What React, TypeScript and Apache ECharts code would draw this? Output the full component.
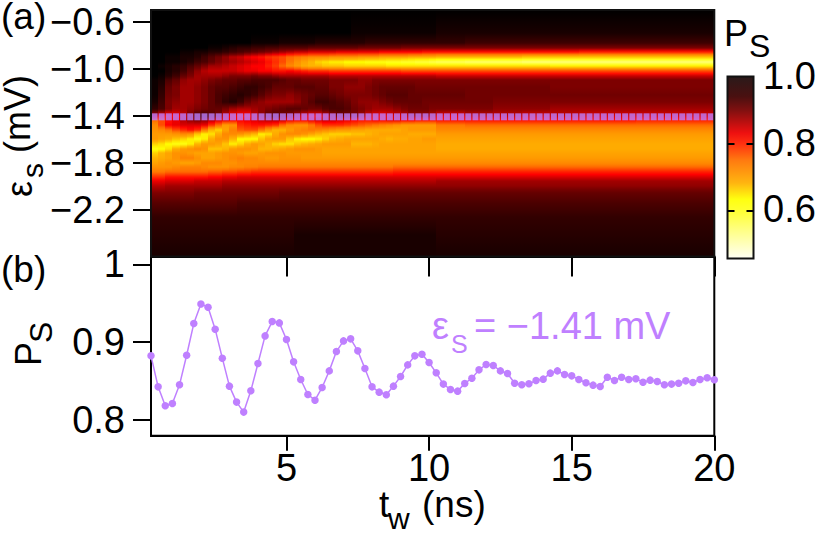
import React, { useEffect, useRef } from "react";
import * as echarts from "echarts";

const FONT = '"Liberation Sans", Arial, sans-serif';
const PURPLE = "#bf80ff";

// panel (b): waiting time samples 0.25 .. 20 ns
const waitNs = Array.from({ length: 80 }, (_, i) => (i + 1) * 0.25);
const panelB = [
  0.8825, 0.8427, 0.8184, 0.8214, 0.8453, 0.8833, 0.9239, 0.9491, 0.9449, 0.9167,
  0.8795, 0.8436, 0.8231, 0.8103, 0.8376, 0.8726, 0.9081, 0.9265, 0.9248, 0.9034,
  0.8748, 0.8521, 0.8329, 0.8256, 0.8419, 0.8632, 0.888, 0.9017, 0.9043, 0.8889,
  0.8662, 0.8427, 0.8359, 0.8325, 0.8436, 0.856, 0.8709, 0.8825, 0.8846, 0.8739,
  0.8607, 0.8462, 0.8393, 0.8372, 0.847, 0.8538, 0.8645, 0.8714, 0.8701, 0.8632,
  0.8598, 0.8474, 0.8453, 0.8466, 0.8509, 0.8526, 0.8603, 0.8632, 0.8585, 0.8568,
  0.8521, 0.8479, 0.8449, 0.8432, 0.8551, 0.8509, 0.8551, 0.8521, 0.853, 0.8487,
  0.8513, 0.8496, 0.8453, 0.8462, 0.8474, 0.8504, 0.8483, 0.8521, 0.8543, 0.8517,
];

// panel (a): column edges in ns, row energies in mV, P_S x 100
const colEdges = [
  0.25, 0.5, 0.75, 1, 1.25, 1.5, 1.75, 2, 2.25, 2.5, 2.75, 3, 3.25, 3.5, 3.75, 4, 4.25, 4.5, 4.75, 5,
  5.25, 5.5, 5.75, 6, 6.25, 6.5, 6.75, 7, 7.25, 7.5, 7.75, 8, 8.25, 8.5, 8.75, 9, 9.25, 9.5, 9.75, 10, 10.25,
  11.25, 12.25, 13.25, 14.25, 15.25, 16.25, 17.25, 18.25, 19.25, 20,
];
const rowEnergies = [
  -0.5, -0.7, -0.78, -0.82, -0.86, -0.9, -0.94, -0.98, -1.02, -1.06, -1.1, -1.16, -1.22, -1.28, -1.34, -1.4,
  -1.44, -1.48, -1.52, -1.56, -1.6, -1.64, -1.68, -1.72, -1.76, -1.8, -1.84, -1.88, -1.92, -1.96, -2.0, -2.06,
  -2.14, -2.26, -2.42, -2.6,
];
const heatRows = [
  [100,100,100,100,100,100,100,100,100,100,100,100,100,100,100,100,100,100,100,100,100,100,100,100,100,100,100,100,100,100,100,100,100,100,100,100,100,100,100,100,100,100,100,100,100,100,100,100,100,100],
  [100,100,100,100,100,100,100,100,100,100,100,100,100,100,100,100,100,100,100,100,100,100,100,100,100,100,100,100,99,99,99,99,99,99,99,99,99,99,99,99,98,98,98,98,98,98,98,98,98,98],
  [100,100,100,100,100,100,100,100,100,100,100,100,100,100,99,99,99,99,98,98,98,98,98,97,97,97,97,97,97,97,96,96,96,96,96,96,96,96,96,96,96,95,95,95,95,95,95,95,95,95],
  [100,100,100,100,100,100,100,100,99,99,98,97,96,96,95,95,94,94,93,93,93,93,92,92,92,92,92,92,92,91,91,91,91,91,91,90,90,90,90,90,90,90,90,90,90,90,90,90,90,90],
  [100,100,100,100,99,99,98,98,97,97,96,95,94,93,92,91,90,89,88,87,86,86,85,85,85,85,84,84,84,84,84,84,83,83,83,83,83,83,82,82,82,82,82,82,82,81,81,81,81,81],
  [100,100,99,99,98,98,97,95,93,91,89,87,86,84,83,82,80,79,78,76,75,74,73,73,73,72,72,72,72,71,71,71,70,70,70,70,69,69,69,69,68,68,68,67,67,67,67,67,67,67],
  [100,100,99,99,98,97,95,94,92,90,89,88,87,86,85,84,82,80,78,75,72,70,68,66,65,64,64,63,63,63,62,62,62,61,61,60,60,59,59,58,57,56,56,55,55,55,55,55,55,55],
  [100,99,98,97,96,94,92,90,88,88,87,86,85,84,83,83,81,79,76,73,71,69,68,68,67,67,67,66,66,66,66,66,66,65,65,65,65,65,65,65,65,65,65,65,64,64,64,64,64,64],
  [100,100,98,97,95,92,89,87,86,86,86,86,85,84,84,83,83,82,82,83,82,81,80,80,80,79,79,79,79,79,79,79,79,79,79,78,78,78,78,78,78,78,78,78,78,78,78,78,78,78],
  [100,99,97,95,92,90,88,88,88,88,89,90,90,90,91,90,90,89,88,88,88,88,88,88,88,87,87,87,87,87,87,87,87,87,87,87,87,87,87,87,86,86,86,86,86,86,86,86,86,86],
  [99,98,94,92,89,88,88,89,90,91,92,92,93,93,94,94,94,94,93,92,92,91,91,91,91,90,90,90,90,89,89,90,90,90,90,90,90,90,90,90,90,90,90,90,90,90,90,90,90,90],
  [99,97,92,90,88,88,89,90,92,93,93,94,95,96,96,95,94,92,92,92,93,93,93,92,92,90,90,89,89,89,90,91,92,92,92,92,92,91,91,91,91,91,91,91,90,90,90,90,90,90],
  [99,96,91,90,88,88,89,90,92,94,95,96,97,96,95,93,91,90,90,89,90,91,92,93,93,92,91,90,90,90,90,91,92,93,93,93,92,92,92,92,92,91,91,91,91,91,91,91,91,91],
  [98,95,90,89,88,88,89,90,92,94,96,97,95,92,90,89,88,88,88,88,89,91,93,95,95,94,93,92,90,89,89,89,90,91,92,92,92,92,91,91,91,91,90,90,90,90,90,90,90,90],
  [96,94,90,88,88,89,90,91,92,92,90,88,87,87,88,89,90,91,92,93,93,92,91,91,93,94,94,93,91,90,89,88,88,88,89,90,91,91,91,90,90,90,89,89,88,88,88,88,88,88],
  [86,83,82,83,86,90,94,95,93,90,86,83,82,82,86,89,92,93,91,89,86,84,83,83,85,88,90,90,90,88,85,84,83,84,85,86,88,88,88,87,84,86,86,85,86,85,85,85,85,85],
  [76,78,82,84,87,89,90,89,87,85,84,83,83,84,85,86,87,87,86,84,83,83,84,85,86,86,85,84,83,82,82,83,83,84,84,83,83,82,82,82,82,82,82,82,82,82,82,81,81,81],
  [73,78,83,84,85,85,85,84,80,76,71,72,80,81,82,82,81,80,76,73,72,72,75,78,80,80,80,79,78,77,76,75,74,73,72,71,71,71,71,71,75,76,76,76,76,76,76,76,76,76],
  [72,73,75,78,80,82,80,74,68,66,70,74,77,78,78,75,71,68,68,71,73,74,75,74,73,72,71,71,70,70,69,69,69,69,69,70,71,71,71,71,73,73,73,73,73,73,73,73,73,73],
  [71,71,71,72,73,72,67,64,65,69,73,73,72,70,68,64,65,69,72,73,73,72,70,68,67,66,66,66,67,67,68,69,70,70,70,70,69,69,69,69,71,71,71,71,71,71,71,71,71,71],
  [71,70,69,67,66,64,62,64,69,72,72,68,63,63,63,67,70,71,71,67,64,63,63,64,66,68,69,70,70,70,70,70,69,68,69,69,70,70,71,71,70,70,70,70,70,70,70,70,70,70],
  [66,65,63,62,62,64,68,71,71,70,67,64,66,69,71,70,68,66,65,65,67,68,69,70,71,71,71,71,68,68,68,69,70,70,70,70,70,70,70,70,69,69,69,69,69,69,69,69,69,69],
  [62,63,65,69,71,72,73,72,67,67,68,71,72,72,71,68,68,69,70,71,72,72,72,71,70,70,70,70,70,70,70,70,70,70,70,70,70,70,70,70,69,69,69,69,69,69,69,69,69,69],
  [66,68,70,72,72,71,70,70,70,71,72,72,71,70,70,71,72,72,72,71,71,71,71,71,70,70,70,70,70,70,70,70,70,70,70,70,70,70,70,70,70,70,70,70,70,70,70,70,70,70],
  [68,69,70,72,74,74,72,70,70,71,72,73,74,73,73,72,71,71,72,72,72,71,71,71,71,71,71,71,71,71,71,71,71,71,71,71,71,71,71,71,71,71,71,71,71,71,71,71,71,71],
  [70,71,72,71,70,70,71,73,73,73,72,72,73,73,73,73,73,73,73,73,73,73,73,73,73,73,73,73,73,73,73,73,73,73,73,73,73,73,73,73,73,73,73,73,73,73,73,73,73,73],
  [72,72,72,73,74,74,74,73,72,72,72,73,73,74,74,75,75,75,75,75,75,75,75,75,75,75,75,75,75,75,75,75,75,75,76,76,76,76,76,76,76,76,76,76,76,76,76,76,76,76],
  [75,75,76,76,76,76,76,76,77,77,78,78,79,79,80,80,80,80,80,80,80,80,80,80,80,80,80,80,80,80,80,80,80,80,81,81,81,81,81,81,81,81,81,81,81,81,81,81,81,81],
  [80,80,82,82,82,82,82,82,83,83,84,84,85,85,85,85,85,85,85,85,85,85,85,85,85,85,85,85,85,85,85,85,85,85,85,85,85,85,85,85,85,85,85,85,85,85,85,85,85,85],
  [84,84,85,85,85,85,86,86,86,86,87,87,87,87,87,87,87,87,87,87,87,87,87,87,87,87,87,87,87,87,87,87,87,87,87,87,87,87,87,87,88,88,88,88,88,88,88,88,88,88],
  [87,87,88,88,88,88,88,88,88,88,89,89,89,89,89,89,89,89,89,89,89,89,89,89,89,89,89,89,89,89,89,89,89,89,89,89,89,89,89,89,89,89,89,89,89,89,89,89,89,89],
  [90,90,90,90,90,90,91,91,91,91,91,91,91,91,91,91,91,91,92,92,92,92,92,92,92,92,92,92,92,92,92,92,92,92,92,92,92,92,92,92,92,92,92,92,92,92,92,92,92,92],
  [93,93,93,93,93,93,93,93,93,93,93,93,94,94,94,94,94,94,94,94,94,94,94,94,94,94,94,94,94,94,94,94,94,94,94,94,94,94,94,94,94,94,94,94,94,94,94,94,94,94],
  [96,96,96,96,96,96,96,96,96,96,96,96,96,96,96,96,96,96,96,96,96,96,96,96,96,96,96,96,96,96,96,96,96,96,96,96,96,96,96,96,96,96,96,96,96,96,96,96,96,96],
  [97,97,97,97,97,97,97,97,97,97,97,97,97,97,97,97,97,97,97,97,98,98,98,98,98,98,98,98,98,98,98,98,98,98,98,98,98,98,98,98,97,97,97,97,97,97,97,97,97,97],
  [98,98,98,98,98,98,98,98,98,98,98,98,98,98,98,98,98,98,98,98,98,98,98,98,98,98,98,98,98,98,98,98,98,98,98,98,98,98,98,98,98,98,98,98,98,98,98,98,98,98],
];

const cutEnergy = -1.41;
const yTicksA = [-0.6, -1.0, -1.4, -1.8, -2.2];
const yTicksB = [0.8, 0.9, 1];
const xTicks = [5, 10, 15, 20];
const barTicks = ["1.0", "0.8", "0.6"];

// colour scale of P_S, value to rgb
const heatStops: number[][] = [
  [0.457, 255, 255, 255],
  [0.63, 255, 255, 0],
  [0.68, 255, 180, 0],
  [0.75, 255, 120, 0],
  [0.83, 255, 0, 0],
  [0.9, 125, 0, 0],
  [1.0, 0, 0, 0],
];
const barStops: [number, string][] = [
  [0, "#2a1a1a"],
  [0.11, "#4a1010"],
  [0.185, "#801010"],
  [0.31, "#ee1010"],
  [0.368, "#ff3010"],
  [0.46, "#ff7a10"],
  [0.585, "#ffb510"],
  [0.675, "#ffff10"],
  [0.735, "#ffff30"],
  [0.85, "#ffff88"],
  [1, "#fffff4"],
];

function colorOf(v: number): string {
  let i = 0;
  while (i < heatStops.length - 2 && v > heatStops[i + 1][0]) i++;
  const a = heatStops[i];
  const b = heatStops[i + 1];
  const f = Math.max(0, Math.min(1, (v - a[0]) / (b[0] - a[0])));
  const c = [1, 2, 3].map((k) => Math.round(a[k] + (b[k] - a[k]) * f));
  return `rgb(${c[0]},${c[1]},${c[2]})`;
}

const cells: number[][] = [];
for (let r = 0; r < rowEnergies.length - 1; r++) {
  for (let c = 0; c < colEdges.length - 1; c++) {
    cells.push([colEdges[c], colEdges[c + 1], rowEnergies[r], rowEnergies[r + 1], heatRows[r][c] / 100, heatRows[r + 1][c] / 100]);
  }
}

function renderCell(_: any, api: any) {
  const p0 = api.coord([api.value(0), api.value(2)]);
  const p1 = api.coord([api.value(1), api.value(3)]);
  const x = Math.round(p0[0]);
  const y = Math.round(p0[1]);
  const w = Math.round(p1[0]) - x;
  const h = Math.round(p1[1]) - y;
  const v0 = api.value(4);
  const v1 = api.value(5);
  return {
    type: "rect",
    shape: { x, y, width: w, height: h },
    style: {
      fill: new echarts.graphic.LinearGradient(0, 0, 0, 1, [
        { offset: 0, color: colorOf(v0) },
        { offset: 0.5, color: colorOf((v0 + v1) / 2) },
        { offset: 1, color: colorOf(v1) },
      ]),
    },
  };
}

function txt(text: string, x: number, base: number, size: number, color = "#000") {
  return {
    type: "text",
    x,
    y: base - size * 0.36,
    z: 20,
    style: { text, fill: color, font: `${size}px ${FONT}`, lineHeight: size * 0.85, align: "left", verticalAlign: "middle" },
  };
}
function vtxt(text: string, baseX: number, startY: number, size: number) {
  return {
    type: "text",
    x: baseX - size * 0.36,
    y: startY,
    rotation: Math.PI / 2,
    z: 20,
    style: { text, fill: "#000", font: `${size}px ${FONT}`, lineHeight: size * 0.85, align: "left", verticalAlign: "middle" },
  };
}

const G0 = { left: 151, top: 10, width: 563.3, height: 246.5 };
const G1 = { left: 151, top: 256.5, width: 563.3, height: 179.2 };
const lineBlack = { show: true, lineStyle: { color: "#000", width: 2 } };
const tickBlack = (length: number, values: number[]) => ({
  show: true,
  length,
  customValues: values,
  lineStyle: { color: "#000", width: 2 },
});
const label = (values: number[], margin: number, fmt: (v: number) => string) => ({
  show: true,
  customValues: values,
  margin,
  fontSize: 38,
  fontFamily: FONT,
  color: "#000",
  formatter: fmt,
});

export default function App() {
  const ref = useRef<HTMLDivElement>(null);
  useEffect(() => {
    const chart = echarts.init(ref.current!, undefined, { renderer: "svg" });
    const barX = 727.5;
    const barY = 76.5;
    const barW = 26;
    const barH = 182;
    const barTickY = [144, 211];
    chart.setOption({
      animation: false,
      backgroundColor: "#fff",
      grid: [
        { ...G0, show: false },
        { ...G1, show: true, borderColor: "#000", borderWidth: 2, backgroundColor: "#fff" },
      ],
      xAxis: [
        {
          type: "value", gridIndex: 0, min: 0.25, max: 20, position: "bottom",
          axisLine: lineBlack, axisTick: tickBlack(20, xTicks), axisLabel: { show: false }, splitLine: { show: false },
        },
        {
          type: "value", gridIndex: 1, min: 0.25, max: 20, position: "bottom",
          axisLine: lineBlack, axisTick: tickBlack(15, xTicks),
          axisLabel: label(xTicks, 13, (v) => String(v)), splitLine: { show: false },
        },
      ],
      yAxis: [
        {
          type: "value", gridIndex: 0, min: -2.6, max: -0.5,
          axisLine: lineBlack, axisTick: tickBlack(18, yTicksA),
          axisLabel: label(yTicksA, 26, (v) => v.toFixed(1).replace("-", "\u2212")), splitLine: { show: false },
        },
        {
          type: "value", gridIndex: 1, min: 0.78, max: 1.01,
          axisLine: lineBlack, axisTick: tickBlack(18, yTicksB),
          axisLabel: label(yTicksB, 26, (v) => (v === 1 ? "1" : v.toFixed(1))), splitLine: { show: false },
        },
      ],
      series: [
        {
          type: "custom", xAxisIndex: 0, yAxisIndex: 0, data: cells, renderItem: renderCell,
          encode: { x: [0, 1], y: [2, 3] }, silent: true, clip: true, z: 2,
        },
        {
          type: "scatter", xAxisIndex: 0, yAxisIndex: 0, silent: true, z: 4,
          data: waitNs.slice(0, 79).map((t) => [t + 0.125, cutEnergy]),
          symbol: "rect", symbolSize: [6, 7], itemStyle: { color: "#bb80ff" },
        },
        {
          type: "line", xAxisIndex: 1, yAxisIndex: 1, silent: true, z: 4, clip: false,
          data: waitNs.map((t, i) => [t, panelB[i]]),
          symbol: "circle", symbolSize: 7.5, showSymbol: true,
          lineStyle: { color: PURPLE, width: 1.5 }, itemStyle: { color: PURPLE },
        },
      ],
      graphic: [
        {
          type: "rect", z: 10,
          shape: { x: 151, y: 10, width: 563.3, height: 246.5 },
          style: { fill: "transparent", stroke: "#111", lineWidth: 2 },
        },
        {
          type: "rect", z: 10,
          shape: { x: barX, y: barY, width: barW, height: barH },
          style: {
            stroke: "#111", lineWidth: 2,
            fill: new echarts.graphic.LinearGradient(0, 0, 0, 1, barStops.map(([offset, color]) => ({ offset, color }))),
          },
        },
        ...barTickY.flatMap((y) => [
          { type: "line", z: 11, shape: { x1: barX, y1: y, x2: barX + 7, y2: y }, style: { stroke: "#000", lineWidth: 2 } },
          { type: "line", z: 11, shape: { x1: barX + barW - 7, y1: y, x2: barX + barW, y2: y }, style: { stroke: "#000", lineWidth: 2 } },
        ]),
        txt(barTicks[0], 763, 90, 38),
        txt(barTicks[1], 763, 156.7, 38),
        txt(barTicks[2], 763, 223, 38),
        txt("P", 724, 46, 36),
        txt("S", 749, 58, 32),
        txt("(a)", 1, 30, 37),
        txt("(b)", 1, 283, 37),
        txt("t", 379, 518, 37),
        txt("w", 388, 529, 30),
        txt("(ns)", 422, 518, 37),
        txt("\u03b5", 432, 340, 38, PURPLE),
        txt("S", 451, 353, 25, PURPLE),
        txt("= \u22121.41 mV", 474, 340, 38, PURPLE),
        vtxt("(mV)", 30, 153, 36),
        vtxt("\u03b5", 32, 197, 36),
        vtxt("s", 43, 178, 30),
        vtxt("P", 41, 366, 36),
        vtxt("S", 53, 343, 32),
      ],
    });
    return () => chart.dispose();
  }, []);
  return <div ref={ref} style={{ position: "absolute", left: 0, top: 0, width: 830, height: 544 }} />;
}
